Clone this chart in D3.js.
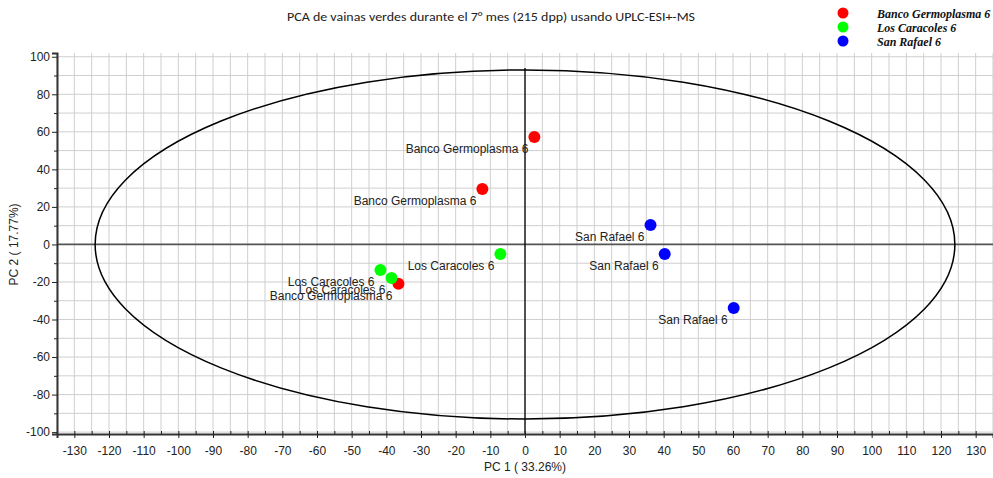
<!DOCTYPE html>
<html>
<head>
<meta charset="utf-8">
<script src="https://cdn.jsdelivr.net/npm/d3@7"></script>
<style>
  body { margin: 0; background: #fff; }
  svg { display: block; font-family: "Liberation Sans", Arial, sans-serif; }
</style>
</head>
<body>
<svg id="chart" width="993" height="478"></svg>
<script>
// PCA scores (PC1, PC2) per sample
const samples = ["Banco Germoplasma 6", "Banco Germoplasma 6", "Banco Germoplasma 6",
                 "Los Caracoles 6", "Los Caracoles 6", "Los Caracoles 6",
                 "San Rafael 6", "San Rafael 6", "San Rafael 6"];
const pc1 = [2.7, -12.3, -36.5, -7.1, -41.7, -38.5, 36.2, 40.3, 60.2];
const pc2 = [57.3, 29.6, -21.0, -5.1, -13.6, -17.9, 10.4, -5.1, -33.9];

const groups = ["Banco Germoplasma 6", "Los Caracoles 6", "San Rafael 6"];
const groupColors = ["#ff0000", "#00ff00", "#0000ff"];

// Hotelling T2 ellipse semi-axes (PC1, PC2)
const ellipseRadii = [124, 93];

const xTicks = d3.range(-130, 131, 10);
const yTicks = d3.range(-100, 101, 20);

const svg = d3.select("#chart");
const plotLeft = 57, plotRight = 993, plotTop = 53, plotBottom = 434;

const x = d3.scaleLinear().domain([-135, 135]).range([plotLeft, plotRight]);
const y = d3.scaleLinear().domain([-101, 102]).range([plotBottom, plotTop]);
const color = d3.scaleOrdinal().domain(groups).range(groupColors);
const fmt = d => String(d); // plain hyphen-minus for negatives

// grid
const grid = svg.append("g");
grid.selectAll("line.vx").data(d3.range(-135, 136, 5)).join("line")
  .attr("x1", d => x(d)).attr("x2", d => x(d))
  .attr("y1", plotTop).attr("y2", plotBottom)
  .attr("stroke", "#cfcfcf").attr("stroke-width", 1);
grid.selectAll("line.hy").data(d3.range(-100, 101, 10)).join("line")
  .attr("x1", plotLeft).attr("x2", plotRight)
  .attr("y1", d => y(d)).attr("y2", d => y(d))
  .attr("stroke", "#cfcfcf").attr("stroke-width", 1);

// zero lines
svg.append("line").attr("x1", plotLeft).attr("x2", plotRight)
  .attr("y1", y(0)).attr("y2", y(0))
  .attr("stroke", "#555").attr("stroke-width", 1.8);
svg.append("line").attr("x1", x(0)).attr("x2", x(0))
  .attr("y1", plotTop + 15).attr("y2", plotBottom)
  .attr("stroke", "#000").attr("stroke-width", 1.3);

// confidence ellipse
svg.append("ellipse")
  .attr("cx", x(0)).attr("cy", y(0))
  .attr("rx", x(ellipseRadii[0]) - x(0))
  .attr("ry", y(0) - y(ellipseRadii[1]))
  .attr("fill", "none").attr("stroke", "#000").attr("stroke-width", 1.5);

// axes
const xAxis = svg.append("g").attr("transform", `translate(0,${plotBottom})`)
  .call(d3.axisBottom(x).tickValues(xTicks).tickSize(4).tickPadding(8).tickFormat(fmt));
svg.append("g").attr("transform", `translate(0,${plotBottom})`)
  .call(d3.axisTop(x).tickValues(d3.range(-135, 136, 5)).tickSize(3).tickFormat(""))
  .select(".domain").remove();
const yAxis = svg.append("g").attr("transform", `translate(${plotLeft},0)`)
  .call(d3.axisLeft(y).tickValues(yTicks).tickSize(5).tickPadding(2).tickFormat(fmt));
svg.append("g").attr("transform", `translate(${plotLeft},0)`)
  .call(d3.axisLeft(y).tickValues(d3.range(-90, 100, 20)).tickSize(3).tickFormat(""))
  .select(".domain").remove();

[xAxis, yAxis].forEach(a => {
  a.attr("font-family", null).attr("font-size", null);
  a.select(".domain").attr("stroke", "#333").attr("stroke-width", 2);
  a.selectAll("text").style("font-size", "12px").attr("fill", "#222")
    .style("font-family", "'Liberation Sans', Arial, sans-serif");
});
svg.selectAll(".tick line").attr("stroke", "#222");

// axis titles
svg.append("text").attr("x", 525).attr("y", 471).attr("text-anchor", "middle")
  .style("font-size", "12px").attr("fill", "#222").text("PC 1 ( 33.26%)");
svg.append("text").attr("transform", `translate(18,${y(0)}) rotate(-90)`)
  .attr("text-anchor", "middle").style("font-size", "12px").attr("fill", "#222")
  .text("PC 2 ( 17.77%)");

// chart title
svg.append("text").attr("x", 491).attr("y", 21).attr("text-anchor", "middle")
  .style("font-family", "Carlito, Calibri, 'Open Sans', sans-serif")
  .style("font-size", "12.5px").attr("fill", "#222")
  .attr("textLength", 408).attr("lengthAdjust", "spacingAndGlyphs")
  .text("PCA de vainas verdes durante el 7° mes (215 dpp) usando UPLC-ESI+-MS");

// points and labels
const pts = samples.map((s, i) => ({ s, x: pc1[i], y: pc2[i] }));
svg.append("g").selectAll("circle").data(pts).join("circle")
  .attr("cx", d => x(d.x)).attr("cy", d => y(d.y)).attr("r", 6)
  .attr("fill", d => color(d.s));
svg.append("g").selectAll("text").data(pts).join("text")
  .attr("x", d => x(d.x) - 6).attr("y", d => y(d.y) + 16)
  .attr("text-anchor", "end").style("font-size", "12px").attr("fill", "#222")
  .text(d => d.s);

// legend
const lg = svg.append("g").attr("transform", "translate(843,13)");
const item = lg.selectAll("g").data(groups).join("g")
  .attr("transform", (d, i) => `translate(0,${i * 14})`);
item.append("circle").attr("r", 5.5).attr("fill", d => color(d));
item.append("text").attr("x", 34).attr("y", 4.5)
  .style("font-family", "'Liberation Serif', 'Times New Roman', serif")
  .style("font-weight", "bold").style("font-style", "italic")
  .style("font-size", "12px").attr("fill", "#111").text(d => d);
</script>
</body>
</html>
